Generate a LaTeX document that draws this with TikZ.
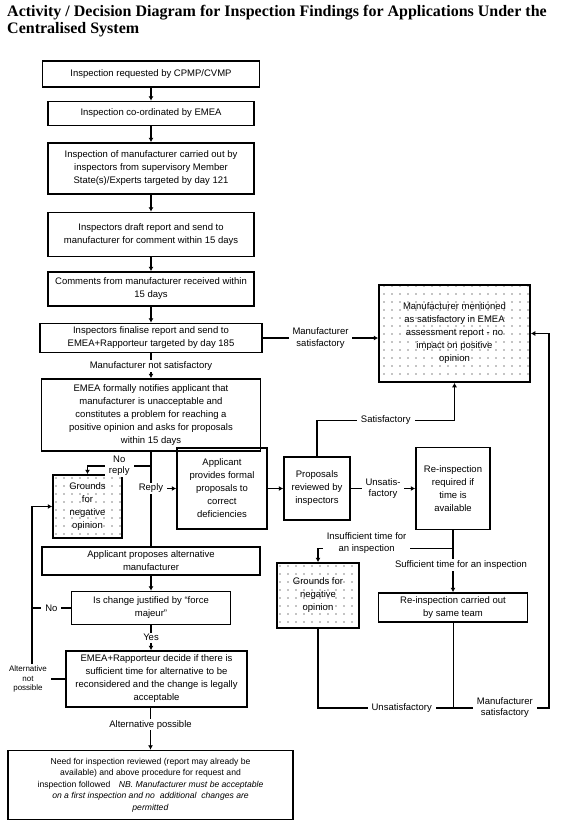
\documentclass[tikz,border=0pt]{standalone}
\usepackage{fontspec}
\setmainfont{Liberation Sans}
\newfontfamily\titlefont{Liberation Serif}
\usepackage{tikz}
\usetikzlibrary{arrows.meta, positioning, patterns}
\newcommand{\boxfont}{\fontsize{9.5}{13}\selectfont}
\newcommand{\lblfont}{\fontsize{9.5}{11.5}\selectfont}
\pgfdeclarepatternformonly{loosedots}{\pgfpoint{-1pt}{-1pt}}{\pgfpoint{1pt}{1pt}}{\pgfpoint{8pt}{8pt}}{%
  \pgfpathcircle{\pgfpointorigin}{0.6pt}\pgfusepath{fill}}

\begin{document}
\begin{tikzpicture}[x=1pt, y=1pt,
    box/.style={draw, line width=1.5pt, align=center, font=\boxfont, inner sep=2pt},
    dotbox/.style={box, pattern=loosedots},
    lbl/.style={fill=white, align=center, font=\lblfont, inner xsep=4pt, inner ysep=1.5pt},
    arr/.style={-{Latex[length=4.5pt,width=5pt]}, line width=1.5pt},
    ln/.style={line width=1.5pt}
  ]
  \useasboundingbox (0,0) rectangle (560,-830);

  \node[anchor=north west, align=left, inner sep=0pt,
        font=\titlefont\bfseries\fontsize{16}{17}\selectfont] (title) at (7,-5)
    {Activity / Decision Diagram for Inspection Findings for Applications Under the\\
     Centralised System};

  % main column
  \node[box, minimum width=217, minimum height=26] (req) at (151,-74)
    {Inspection requested by CPMP/CVMP};
  \node[box, below=13pt of req, minimum width=206, minimum height=24] (coord)
    {Inspection co-ordinated by EMEA};
  \node[box, below=16pt of coord, minimum width=206, minimum height=51] (visit) {%
    Inspection of manufacturer carried out by\\
    inspectors from supervisory Member\\
    State(s)/Experts targeted by day 121};
  \node[box, below=17pt of visit, minimum width=206, minimum height=44] (draft) {%
    Inspectors draft report and send to\\
    manufacturer for comment within 15 days};
  \node[box, below=14pt of draft, minimum width=206, minimum height=34] (comments) {%
    Comments from manufacturer received within\\
    15 days};
  \node[box, below=16pt of comments, minimum width=222, minimum height=29] (final) {%
    Inspectors finalise report and send to\\
    EMEA+Rapporteur targeted by day 185};
  \node[box, below=25pt of final, minimum width=219, minimum height=72] (notify) {%
    EMEA formally notifies applicant that\\
    manufacturer is unacceptable and\\
    constitutes a problem for reaching a\\
    positive opinion and asks for proposals\\
    within 15 days};

  % middle and right
  \node[dotbox, minimum width=69, minimum height=63] (neg1) at (87.5,-506.5)
    {Grounds\\for\\negative\\opinion};
  \node[box, minimum width=90, minimum height=81] (proposeFix) at (222,-488.5)
    {Applicant\\provides formal\\proposals to\\correct\\deficiencies};
  \node[box, minimum width=66, minimum height=63] (review) at (317,-488.5)
    {Proposals\\reviewed by\\inspectors};
  \node[box, minimum width=74, minimum height=82] (reinsp) at (453,-488.5)
    {Re-inspection\\required if\\time is\\available};
  \node[dotbox, minimum width=151, minimum height=97] (satisfied) at (454.5,-333.5) {%
    Manufacturer mentioned\\
    as satisfactory in EMEA\\
    assessment report - no\\
    impact on positive\\
    opinion};
  \node[dotbox, minimum width=82, minimum height=65] (neg2) at (318,-595.5)
    {Grounds for\\negative\\opinion};
  \node[box, minimum width=149, minimum height=29] (recheck) at (453,-607.5)
    {Re-inspection carried out\\by same team};

  % lower column
  \node[box, minimum width=218, minimum height=28] (altman) at (151,-561)
    {Applicant proposes alternative\\manufacturer};
  \node[box, below=15pt of altman, minimum width=159, minimum height=33] (force)
    {Is change justified by “force\\majeur”};
  \node[box, below=25pt of force, xshift=5.5pt, minimum width=181, minimum height=56] (decide) {%
    EMEA+Rapporteur decide if there is\\
    sufficient time for alternative to be\\
    reconsidered and the change is legally\\
    acceptable};
  \node[box, below=42pt of decide, xshift=-6pt, minimum width=285, minimum height=69,
        font=\fontsize{8.6}{11.4}\selectfont] (need) {%
    Need for inspection reviewed (report may already be\\
    available) and above procedure for request and\\
    inspection followed\quad\textit{NB. Manufacturer must be acceptable}\\
    \textit{on a first inspection and no\ \ additional\ \ changes are}\\
    \textit{permitted}};

  % connectors
  \foreach \a/\b in {req/coord, coord/visit, visit/draft, draft/comments, comments/final}
    \draw[arr] (\a) -- (\b);
  \draw[arr] (final) -- node[lbl]{Manufacturer not satisfactory} (notify);
  \draw[arr] (final.east) -- node[lbl]{Manufacturer\\satisfactory} (final.east -| satisfied.west);

  \path (notify.south) ++(0,-14) coordinate (noreply);
  \draw[ln] (notify.south) -- (notify.south |- altman.north);
  \draw[arr] (noreply) -| node[lbl, pos=0.25]{No\\reply} (neg1.north);
  \node[lbl] (reply) at (notify.south |- proposeFix.west) {Reply};
  \draw[arr] (reply) -- (proposeFix);
  \draw[arr] (proposeFix) -- (review);
  \draw[arr] (review) -- node[lbl]{Unsatis-\\factory} (reinsp);
  \path (satisfied.south) ++(0,-37.5) coordinate (satjoin);
  \draw[arr] (review.north) |- node[lbl, pos=0.75]{Satisfactory} (satjoin) -- (satisfied.south);

  \path (reinsp.south) ++(0,-18) coordinate (timejoin);
  \draw[arr] (reinsp.south) -- node[lbl, pos=0.56, xshift=8pt]{Sufficient time for an inspection} (recheck.north);
  \draw[arr] (timejoin) -| node[lbl, pos=0.32, yshift=5pt]{Insufficient time for\\an inspection} (neg2.north);

  \path (recheck.south) ++(0,-85) coordinate (recjoin);
  \path (recjoin) ++(96,0) coordinate (rightrail);
  \draw[line width=0.6pt] (recheck.south) -- (recjoin);
  \draw[ln] (neg2.south) |- node[lbl, pos=0.81]{Unsatisfactory} (recjoin);
  \draw[arr] (recjoin) -- node[lbl, pos=0.54]{Manufacturer\\satisfactory} (rightrail) |- (satisfied.east);

  \coordinate (leftrail) at (32,0);
  \draw[arr] (decide.west) -- (decide.west -| leftrail) |- (neg1.west);
  \node[lbl, font=\fontsize{8}{9.5}\selectfont] (altnot) at ([xshift=-4pt]decide.west -| leftrail)
    {Alternative\\not\\possible};
  \draw[ln] (force.west) -- node[lbl]{No} (force.west -| leftrail);

  \draw[arr] (altman) -- (force);
  \draw[arr] (force.south) -- node[lbl]{Yes} (force.south |- decide.north);
  \draw[arr] (decide.south -| need.north) -- node[lbl, pos=0.4]{Alternative possible} (need.north);

\end{tikzpicture}
\end{document}
